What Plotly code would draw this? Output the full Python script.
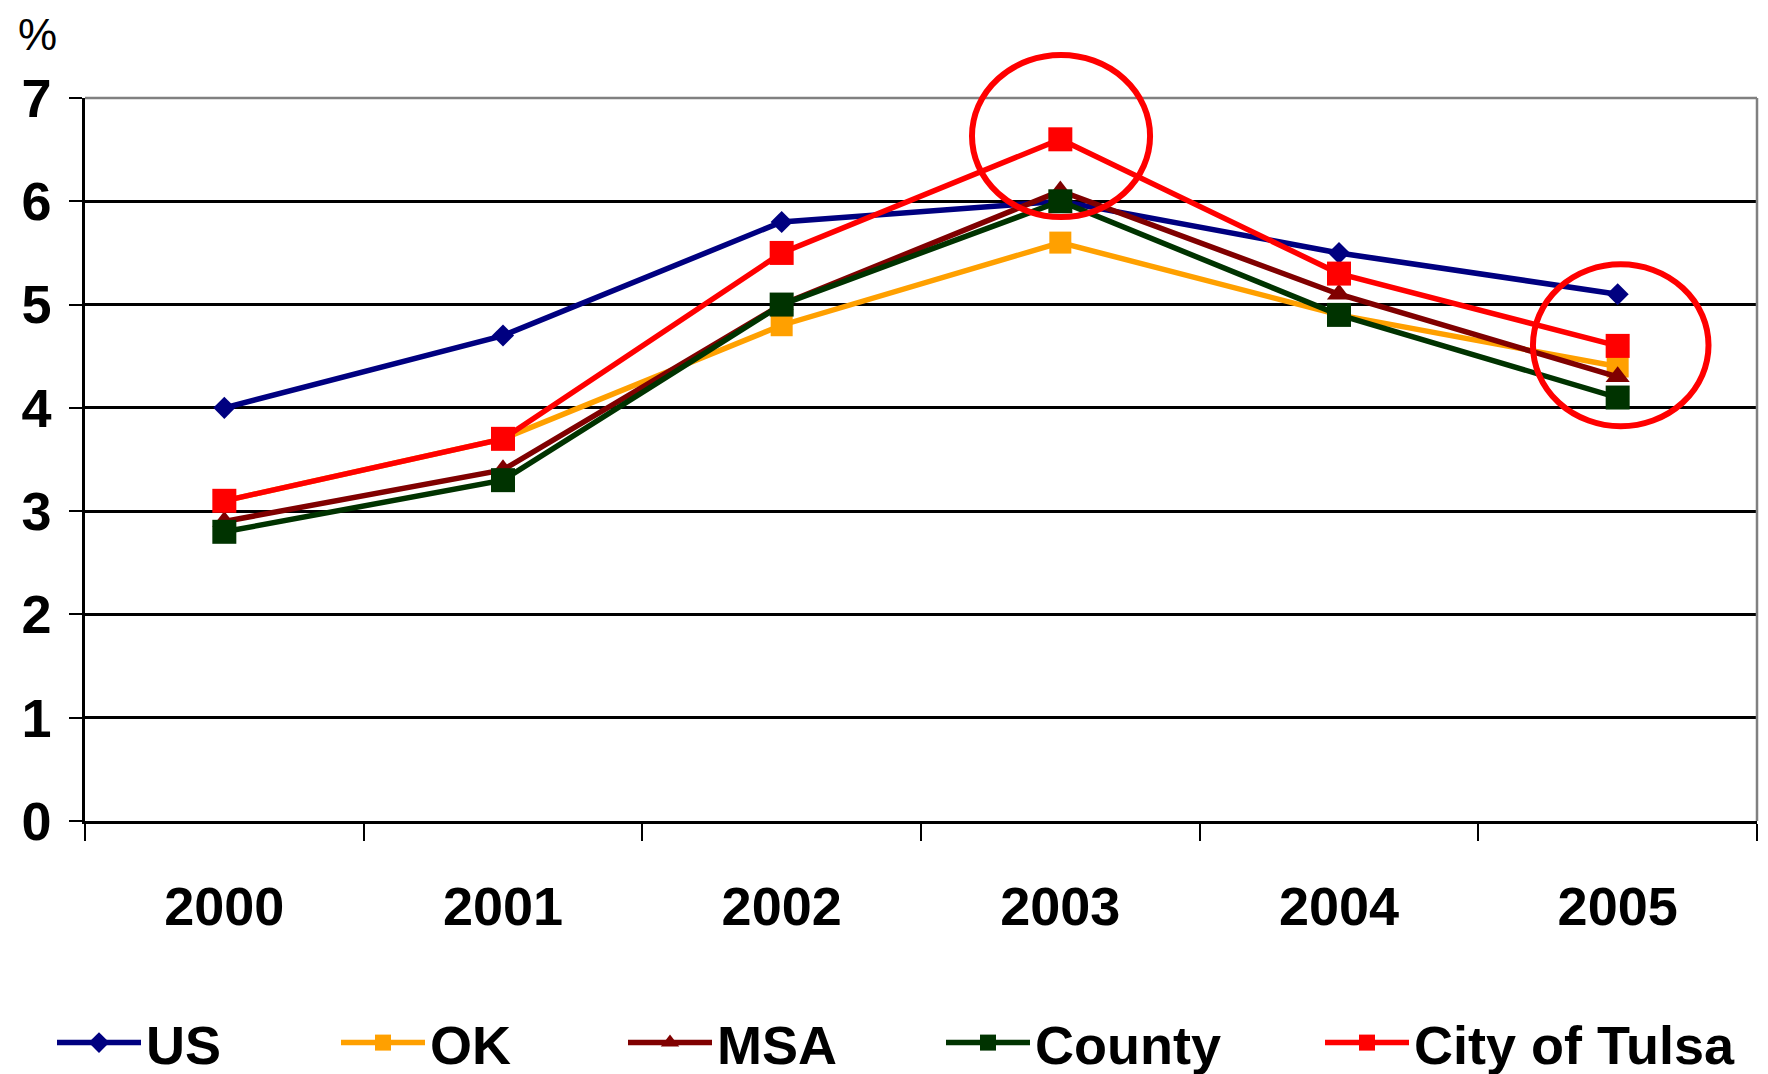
import plotly.graph_objects as go

years = ["2000", "2001", "2002", "2003", "2004", "2005"]
us = [4.0, 4.7, 5.8, 6.0, 5.5, 5.1]
ok = [3.1, 3.7, 4.8, 5.6, 4.9, 4.4]
msa = [2.9, 3.4, 5.0, 6.1, 5.1, 4.3]
county = [2.8, 3.3, 5.0, 6.0, 4.9, 4.1]
tulsa = [3.1, 3.7, 5.5, 6.6, 5.3, 4.6]

series = [
    ("US", us, "#000080", "diamond", 17),
    ("OK", ok, "#FFA000", "square", 22),
    ("MSA", msa, "#800000", "triangle-up", 21),
    ("County", county, "#003300", "square", 24),
    ("City of Tulsa", tulsa, "#FF0000", "square", 24),
]
# legend entry left edges (figure pixels)
legend_x = [44, 328, 615, 933, 1312]

FONT = "Liberation Sans Narrow, Arial Narrow, Liberation Sans, Arial, sans-serif"
W, H = 1760, 1066
FS = 54

fig = go.Figure()
legends = {}
for i, (name, vals, color, sym, msize) in enumerate(series):
    lname = "legend" if i == 0 else f"legend{i + 1}"
    fig.add_trace(go.Scatter(
        x=years, y=vals, name=name, mode="lines+markers",
        line=dict(color=color, width=5.5),
        marker=dict(symbol=sym, size=msize, color=color, line=dict(width=0)),
        legend=lname,
        cliponaxis=False,
    ))
    legends[lname] = dict(
        orientation="h", xref="container", yref="container",
        x=legend_x[i] / W, xanchor="left",
        y=(H - 1035) / H, yanchor="middle",
        font=dict(family=FONT, size=FS, color="black", weight="bold"),
        itemsizing="trace", itemwidth=84, bgcolor="rgba(0,0,0,0)",
        borderwidth=0,
    )

shapes = [
    dict(type="line", xref="paper", yref="paper", x0=0, x1=1, y0=1, y1=1,
         line=dict(color="#808080", width=2.5), layer="above"),
    dict(type="line", xref="paper", yref="paper", x0=1, x1=1, y0=0, y1=1,
         line=dict(color="#808080", width=2.5), layer="above"),
    dict(type="circle", xref="paper", yref="paper", x0=0.5305, x1=0.637,
         y0=0.8354, y1=1.0595, line=dict(color="#FF0000", width=6)),
    dict(type="circle", xref="paper", yref="paper", x0=0.866, x1=0.971,
         y0=0.546, y1=0.770, line=dict(color="#FF0000", width=6)),
]

fig.update_layout(
    width=W, height=H,
    margin=dict(l=77, r=11, t=90, b=253, autoexpand=False),
    paper_bgcolor="white", plot_bgcolor="white",
    font=dict(family=FONT, size=FS, color="black", weight="bold"),
    shapes=shapes,
    showlegend=True,
    annotations=[dict(text="%", xref="paper", yref="paper", x=-0.0287, y=1.0885,
                      showarrow=False, xanchor="center", yanchor="middle",
                      font=dict(family="Liberation Sans, Arial, sans-serif", size=44,
                                color="black", weight="normal"))],
    **legends,
)

fig.update_xaxes(
    type="category", tickson="boundaries", ticks="outside", ticklen=17,
    tickwidth=2, tickcolor="black", showgrid=False, showline=True,
    linecolor="black", linewidth=3, ticklabelstandoff=36, automargin=False,
    tickfont=dict(family=FONT, size=FS, color="black", weight="bold"),
    range=[-0.5, 5.5],
)
fig.update_yaxes(
    range=[0, 7], dtick=1, tick0=0, ticks="outside", ticklen=13, tickwidth=2,
    tickcolor="black", showgrid=True, gridcolor="black", gridwidth=2.5,
    showline=True, linecolor="black", linewidth=2.5, zeroline=False,
    ticklabelstandoff=7, automargin=False,
    tickfont=dict(family=FONT, size=FS, color="black", weight="bold"),
)

fig.write_html("out.html")
